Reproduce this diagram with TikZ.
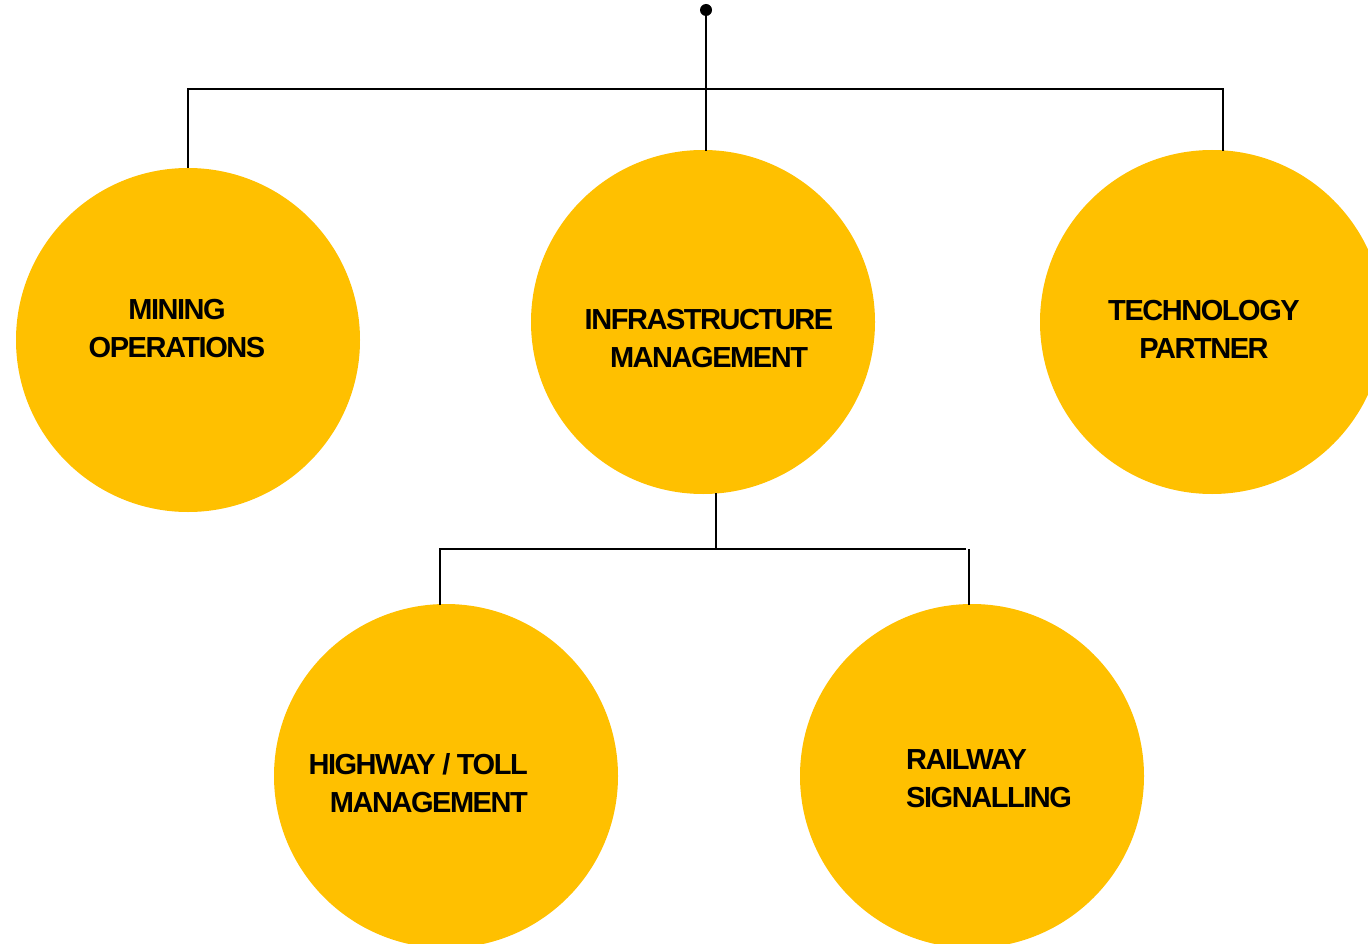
\documentclass[tikz,border=0pt]{standalone}
\usepackage{fontspec}
\setmainfont{Liberation Sans}
\newfontfamily\lblfont[LetterSpace=-5]{Liberation Sans Bold}
\definecolor{gold}{HTML}{FFC000}
\begin{document}
\begin{tikzpicture}[x=1pt,y=-1pt,
  bubble/.style={circle,fill=gold,minimum size=344pt,inner sep=0pt},
  lbl/.style={font=\lblfont\fontsize{29}{38}\selectfont,text=black,inner sep=0pt,align=center},
  wire/.style={line width=2.4pt,black}]
\useasboundingbox (0,0) rectangle (1368,944);
\clip (0,0) rectangle (1368,944);
\fill[white] (0,0) rectangle (1368,944);
% circles
\node[bubble] (min) at (188,340) {};
\node[bubble] (inf) at (703,322) {};
\node[bubble] (tec) at (1212,322) {};
\node[bubble] (hwy) at (446,776) {};
\node[bubble] (rail) at (972,776) {};
% labels
\node[lbl] (tmin) at (177,329) {MINING\\OPERATIONS};
\node[lbl] (tinf) at (709,339) {INFRASTRUCTURE\\MANAGEMENT};
\node[lbl] (ttec) at (1204,329) {TECHNOLOGY\\PARTNER};
\node[lbl,align=right,anchor=north east] (thwy) at (528,753) {HIGHWAY / TOLL\\MANAGEMENT};
\node[lbl,align=left,anchor=north west] (trail) at (906,749) {RAILWAY\\SIGNALLING};
% connectors
\coordinate (root) at (706,10);
\coordinate (jl) at (188,89);
\coordinate (jr) at (1223,89);
\coordinate (jm) at (706,89);
\fill (root) circle (6pt);
\draw[wire] (root) -- (706,151);
\draw[wire] (188,168) -- (jl) -- (jr) -- (1223,151);
\coordinate (bj) at (716,549);
\draw[wire] (716,493) -- (bj);
\draw[wire] (440,605) -- (440,549) -- (966,549);
\draw[wire] (969,549) -- (969,605);
\end{tikzpicture}
\end{document}
